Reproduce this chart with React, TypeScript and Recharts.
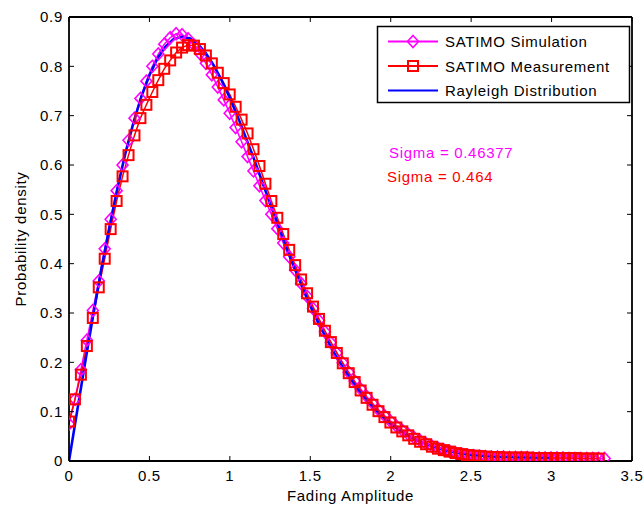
import { Line, LineChart, XAxis, YAxis } from 'recharts'

const FONT = '"Liberation Sans", Arial, Helvetica, sans-serif'

// histogram bin centres (fading amplitude)
const binCenters = [
  0, 0.037, 0.074, 0.111, 0.148, 0.185, 0.222, 0.259, 0.296, 0.333,
  0.37, 0.407, 0.444, 0.481, 0.518, 0.555, 0.592, 0.629, 0.666, 0.703,
  0.74, 0.777, 0.814, 0.851, 0.888, 0.925, 0.962, 0.999, 1.036, 1.073,
  1.11, 1.147, 1.184, 1.221, 1.258, 1.295, 1.332, 1.369, 1.406, 1.443,
  1.48, 1.517, 1.554, 1.591, 1.628, 1.665, 1.702, 1.739, 1.776, 1.813,
  1.85, 1.887, 1.924, 1.961, 1.998, 2.035, 2.072, 2.109, 2.146, 2.183,
  2.22, 2.257, 2.294, 2.331, 2.368, 2.405, 2.442, 2.479, 2.516, 2.553,
  2.59, 2.627, 2.664, 2.701, 2.738, 2.775, 2.812, 2.849, 2.886, 2.923,
  2.96, 2.997, 3.034, 3.071, 3.108, 3.145, 3.182, 3.219, 3.256, 3.293,
  3.33,
]

const simulation = [
  0.075, 0.125, 0.185, 0.245, 0.305, 0.365, 0.43, 0.49, 0.548, 0.6,
  0.65, 0.695, 0.735, 0.77, 0.8, 0.825, 0.845, 0.858, 0.866, 0.864,
  0.856, 0.843, 0.826, 0.806, 0.783, 0.758, 0.732, 0.705, 0.676, 0.647,
  0.617, 0.588, 0.558, 0.528, 0.5, 0.471, 0.442, 0.414, 0.387, 0.36,
  0.334, 0.309, 0.285, 0.262, 0.24, 0.219, 0.199, 0.18, 0.162, 0.146,
  0.131, 0.117, 0.104, 0.092, 0.081, 0.071, 0.062, 0.054, 0.047, 0.041,
  0.035, 0.03, 0.026, 0.022, 0.019, 0.016, 0.014, 0.012, 0.011, 0.01,
  0.009, 0.008, 0.008, 0.008, 0.007, 0.007, 0.007, 0.007, 0.006, 0.006,
  0.006, 0.006, 0.006, 0.006, 0.005, 0.005, 0.005, 0.005, 0.005, 0.005,
  0.005,
]

const measurement = [
  0.08, 0.125, 0.175, 0.233, 0.29, 0.352, 0.41, 0.47, 0.527, 0.577,
  0.62, 0.66, 0.695, 0.722, 0.748, 0.772, 0.795, 0.812, 0.828, 0.838,
  0.843, 0.842, 0.835, 0.822, 0.806, 0.787, 0.766, 0.743, 0.718, 0.692,
  0.664, 0.632, 0.598, 0.562, 0.527, 0.493, 0.46, 0.428, 0.397, 0.368,
  0.34, 0.313, 0.288, 0.264, 0.241, 0.219, 0.198, 0.178, 0.16, 0.143,
  0.128, 0.114, 0.101, 0.089, 0.078, 0.068, 0.06, 0.052, 0.045, 0.039,
  0.034, 0.029, 0.025, 0.022, 0.019, 0.016, 0.014, 0.012, 0.011, 0.01,
  0.009, 0.008, 0.008, 0.007, 0.007, 0.007, 0.007, 0.007, 0.006, 0.006,
  0.006, 0.006, 0.006, 0.006, 0.006, 0.006, 0.005, 0.005, 0.005, 0.005,
]

// fitted Rayleigh curve
const rayleighX = [
  0, 0.05, 0.1, 0.15, 0.2, 0.25, 0.3, 0.35, 0.4, 0.45,
  0.5, 0.55, 0.6, 0.65, 0.7, 0.75, 0.8, 0.85, 0.9, 0.95,
  1, 1.05, 1.1, 1.15, 1.2, 1.25, 1.3, 1.35, 1.4, 1.45,
  1.5, 1.55, 1.6, 1.65, 1.7, 1.75, 1.8, 1.85, 1.9, 1.95,
  2, 2.05, 2.1, 2.15, 2.2, 2.25, 2.3, 2.35, 2.4, 2.45,
  2.5, 2.55, 2.6, 2.65, 2.7, 2.75, 2.8, 2.85, 2.9, 2.95,
  3,
]
const rayleighY = [
  0, 0.1, 0.199, 0.295, 0.387, 0.472, 0.551, 0.623, 0.685, 0.739,
  0.782, 0.816, 0.84, 0.855, 0.86, 0.857, 0.846, 0.827, 0.802, 0.771,
  0.736, 0.697, 0.655, 0.612, 0.567, 0.522, 0.478, 0.434, 0.392, 0.352,
  0.314, 0.28, 0.248, 0.218, 0.191, 0.166, 0.143, 0.123, 0.105, 0.089,
  0.075, 0.063, 0.053, 0.044, 0.037, 0.031, 0.026, 0.021, 0.018, 0.015,
  0.013, 0.011, 0.01, 0.009, 0.008, 0.008, 0.007, 0.007, 0.007, 0.007,
  0.007,
]

const xTicks = [0, 0.5, 1, 1.5, 2, 2.5, 3, 3.5]
const yTicks = [0, 0.1, 0.2, 0.3, 0.4, 0.5, 0.6, 0.7, 0.8, 0.9]

const simData = binCenters.map((x, i) => ({ x, y: simulation[i] }))
const measData = binCenters.slice(0, measurement.length).map((x, i) => ({ x, y: measurement[i] }))
const fitData = rayleighX.map((x, i) => ({ x, y: rayleighY[i] }))

const MAGENTA = '#ff00ff'
const RED = '#ff0000'
const BLUE = '#0000ff'

const tickStyle = { fill: '#000', fontSize: 15, fontFamily: FONT, letterSpacing: 0.7 }
const textStyle = { fontSize: 15, fontFamily: FONT, letterSpacing: 0.7 }

const Diamond = ({ cx, cy, stroke }: { cx: number; cy: number; stroke: string }) => (
  <path
    d={`M${cx},${cy - 6}L${cx + 5.5},${cy}L${cx},${cy + 6}L${cx - 5.5},${cy}Z`}
    fill="none"
    stroke={stroke}
    strokeWidth={1.6}
  />
)

const Square = ({ cx, cy, stroke }: { cx: number; cy: number; stroke: string }) => (
  <rect x={cx - 5} y={cy - 5} width={10} height={10} fill="none" stroke={stroke} strokeWidth={2} />
)

const renderDiamond = (p: any) =>
  p.cx == null ? <g key={`sd-${p.index}`} /> : <Diamond key={`sd-${p.index}`} cx={p.cx} cy={p.cy} stroke={MAGENTA} />

const renderSquare = (p: any) =>
  p.cx == null ? <g key={`ms-${p.index}`} /> : <Square key={`ms-${p.index}`} cx={p.cx} cy={p.cy} stroke={RED} />

const legendRows = [
  { label: 'SATIMO Simulation', color: MAGENTA, marker: 'diamond' },
  { label: 'SATIMO Measurement', color: RED, marker: 'square' },
  { label: 'Rayleigh Distribution', color: BLUE, marker: 'none' },
]

const App = () => {
  return (
    <div style={{ position: 'absolute', left: 0, top: 0, width: 644, height: 510, background: '#fff' }}>
      <LineChart width={644} height={510} margin={{ top: 0, right: 0, bottom: 0, left: 0 }}>
        <XAxis
          xAxisId="bottom"
          type="number"
          dataKey="x"
          domain={[0, 3.5]}
          ticks={xTicks}
          allowDataOverflow
          height={49}
          tickSize={-5}
          tickMargin={14}
          axisLine={{ stroke: '#000', strokeWidth: 1.8 }}
          tickLine={{ stroke: '#000' }}
          tick={tickStyle}
          label={{
            content: () => (
              <text x={350.5} y={501} textAnchor="middle" fill="#000" {...textStyle}>
                Fading Amplitude
              </text>
            ),
          }}
        />
        <XAxis
          xAxisId="top"
          orientation="top"
          type="number"
          dataKey="x"
          domain={[0, 3.5]}
          ticks={xTicks}
          allowDataOverflow
          height={17}
          tickSize={-5}
          axisLine={{ stroke: '#000', strokeWidth: 1.8 }}
          tickLine={{ stroke: '#000' }}
          tickFormatter={() => ''}
        />
        <YAxis
          yAxisId="left"
          type="number"
          domain={[0, 0.9]}
          ticks={yTicks}
          allowDataOverflow
          width={69}
          tickSize={-5}
          tickMargin={11}
          axisLine={{ stroke: '#000', strokeWidth: 1.8 }}
          tickLine={{ stroke: '#000' }}
          tick={tickStyle}
          label={{
            content: () => (
              <text x={26} y={239} transform="rotate(-90 26 239)" textAnchor="middle" fill="#000" {...textStyle}>
                Probability density
              </text>
            ),
          }}
        />
        <YAxis
          yAxisId="right"
          orientation="right"
          type="number"
          domain={[0, 0.9]}
          ticks={yTicks}
          allowDataOverflow
          width={12}
          tickSize={-5}
          axisLine={{ stroke: '#000', strokeWidth: 1.8 }}
          tickLine={{ stroke: '#000' }}
          tickFormatter={() => ''}
        />
        <Line
          xAxisId="bottom"
          yAxisId="left"
          data={simData}
          dataKey="y"
          type="linear"
          stroke={MAGENTA}
          strokeWidth={1.5}
          dot={renderDiamond}
          activeDot={false}
          isAnimationActive={false}
        />
        <Line
          xAxisId="bottom"
          yAxisId="left"
          data={measData}
          dataKey="y"
          type="linear"
          stroke={RED}
          strokeWidth={1.5}
          dot={renderSquare}
          activeDot={false}
          isAnimationActive={false}
        />
        <Line
          xAxisId="top"
          yAxisId="right"
          data={fitData}
          dataKey="y"
          type="linear"
          stroke={BLUE}
          strokeWidth={2.6}
          dot={false}
          activeDot={false}
          isAnimationActive={false}
        />
      </LineChart>
      <svg width={644} height={510} style={{ position: 'absolute', left: 0, top: 0, pointerEvents: 'none' }}>
        <rect x={377.5} y={26.5} width={252} height={76} fill="#fff" stroke="#000" strokeWidth={1.5} />
        {legendRows.map((row, i) => {
          const cy = 41.5 + i * 24.5
          return (
            <g key={row.label}>
              <line x1={388} x2={438} y1={cy} y2={cy} stroke={row.color} strokeWidth={1.8} />
              {row.marker === 'diamond' && <Diamond cx={413} cy={cy} stroke={row.color} />}
              {row.marker === 'square' && <Square cx={413} cy={cy} stroke={row.color} />}
              <text x={445} y={cy + 5.5} fill="#000" {...textStyle}>
                {row.label}
              </text>
            </g>
          )
        })}
        <text x={389} y={158} fill={MAGENTA} {...textStyle}>
          Sigma = 0.46377
        </text>
        <text x={387} y={182} fill={RED} {...textStyle}>
          Sigma = 0.464
        </text>
      </svg>
    </div>
  )
}

export default App
